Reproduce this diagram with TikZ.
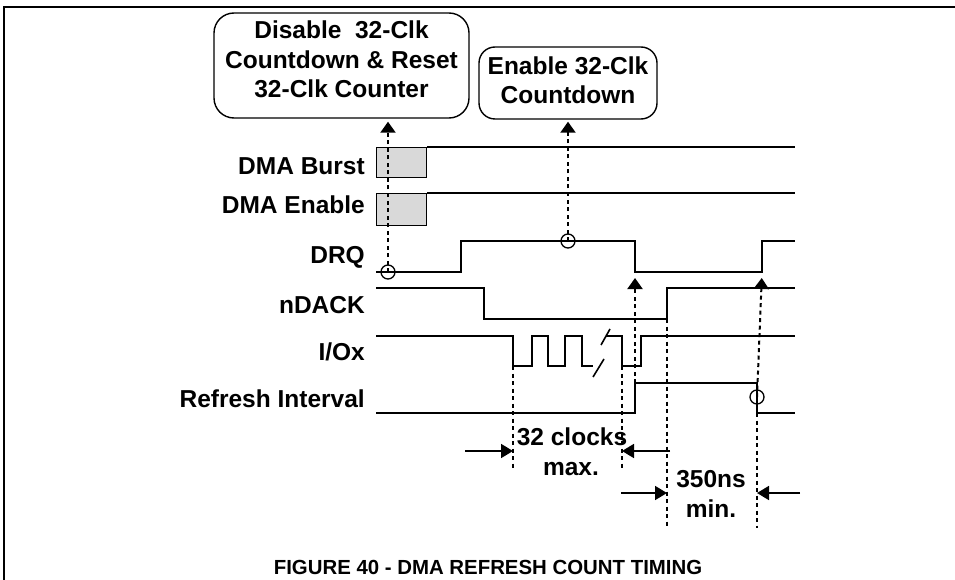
\documentclass[tikz,border=0pt]{standalone}
\usepackage{fontspec}
\setmainfont{Liberation Sans}
\usepackage{tikz}
\usetikzlibrary{positioning, arrows.meta}
\newcommand{\bigbf}{\fontsize{24.5}{29.5}\selectfont\bfseries}
\tikzset{
  siglabel/.style={anchor=base east, inner sep=0pt, font=\bigbf},
  wave/.style={line width=1.6pt, line join=miter},
  burstbox/.style={draw, line width=1.4pt, fill=black!15, inner sep=0pt, anchor=north west},
  eventbox/.style={draw, line width=1.4pt, align=center, inner sep=0pt, font=\bigbf},
  edgemark/.style={draw, circle, line width=1.3pt, minimum size=14pt, inner sep=0pt},
  cause/.style={line width=2pt, dash pattern=on 4pt off 3.5pt, -{Triangle[width=15pt,length=11pt]}},
  guide/.style={line width=2pt, dash pattern=on 4pt off 3.5pt},
  span/.style={line width=1.8pt, -{Triangle[width=14pt,length=12pt]}},
  dimtext/.style={anchor=base, inner sep=0pt, font=\bigbf},
}

\begin{document}
\begin{tikzpicture}[x=1pt, y=-1pt]
  \useasboundingbox (0,0) rectangle (955,580);
  \draw[line width=2.4pt] (4,580) -- (4,7) -- (955,7);

  % signal names
  \foreach \nm/\lab/\y in {lbBurst/DMA Burst/175, lbEnable/DMA Enable/213, lbDRQ/DRQ/263,
      lbDACK/nDACK/313, lbIO/{I/Ox}/360, lbRef/Refresh Interval/407}
    \node[siglabel] (\nm) at (365,\y) {\lab};

  % event boxes
  \node[eventbox, rounded corners=20pt, minimum width=255pt, minimum height=105pt, text depth=12pt]
    (disable) at (341.5,65.5) {Disable\ \ 32-Clk\\Countdown \& Reset\\32-Clk Counter};
  \node[eventbox, rounded corners=16pt, minimum width=178pt, minimum height=72pt, text depth=6pt]
    (enable) at (568,83) {Enable 32-Clk\\Countdown};

  % waveforms
  \node[burstbox, minimum width=50pt, minimum height=30pt] (burst) at (376,147) {};
  \draw[wave] (burst.north east) -- (795,147);
  \node[burstbox, minimum width=50pt, minimum height=32pt] (dmaen) at (376,193) {};
  \draw[wave] (dmaen.north east) -- (795,193);
  \draw[wave] (376,272) -- (461,272) -- (461,241) -- (635,241) -- (635,272)
    -- (762,272) -- (762,241) -- (795,241);
  \draw[wave] (376,288) -- (484,288) -- (484,319) -- (667,319) -- (667,288) -- (795,288);
  \draw[wave] (376,336) -- (513,336) -- (513,366) -- (532,366) -- (532,336) -- (548,336)
    -- (548,366) -- (565,366) -- (565,336) -- (582,336) -- (582,366) -- (593,366);
  \draw[wave] (593,377) -- (604,359);
  \draw[wave] (601,345) -- (610,329);
  \draw[wave] (606,336) -- (622,336) -- (622,366) -- (641,366) -- (641,336) -- (795,336);
  \draw[wave] (376,413) -- (635,413) -- (635,383) -- (757,383) -- (757,413) -- (795,413);

  % edge points
  \node[edgemark] (drqLo) at (388,272) {};
  \node[edgemark] (drqHi) at (568,241) {};
  \node[edgemark] (refOff) at (757,397) {};
  \coordinate (drqFall) at (635,272);
  \coordinate (drqRise) at (762,272);
  \coordinate (refRise) at (635,383);
  \coordinate (refFall) at (757,413);
  \coordinate (ioFirst) at (513,366);
  \coordinate (ioLast) at (622,366);
  \coordinate (ackRise) at (667,319);
  \coordinate (clkL) at (513,470);
  \coordinate (clkR) at (622,470);
  \coordinate (nsL) at (667,528);
  \coordinate (nsR) at (757,528);
  \coordinate (clkTailL) at (465,451);
  \coordinate (clkTailR) at (670,451);
  \coordinate (nsTailL) at (621,493);
  \coordinate (nsTailR) at (800,493);

  % cause and effect
  \draw[cause, shorten >=3pt] (drqLo.center) -- (disable.south -| drqLo);
  \draw[cause, shorten >=2pt] (drqHi.center) -- (enable.south);
  \draw[cause, shorten >=6pt] (refRise) -- (drqFall);
  \draw[cause, shorten >=6pt] (refOff.center) -- (drqRise);

  % timing limits
  \draw[guide] (ioFirst) -- (clkL);
  \draw[guide] (ioLast) -- (clkR);
  \draw[guide] (ackRise) -- (nsL);
  \draw[guide] (refFall) -- (nsR);
  \draw[span] (clkTailL) -- (clkTailL -| clkL);
  \draw[span] (clkTailR) -- (clkTailR -| clkR);
  \draw[span] (nsTailL) -- (nsTailL -| nsL);
  \draw[span] (nsTailR) -- (nsTailR -| nsR);
  \node[dimtext] (clkTxt) at (572,445) {32 clocks};
  \node[dimtext] (clkMax) at (571,475) {max.};
  \node[dimtext] (nsTxt) at (711,487) {350ns};
  \node[dimtext] (nsMin) at (711,517) {min.};

  \node[anchor=base, inner sep=0pt, font=\fontsize{20.4}{24}\selectfont\bfseries] (caption)
    at (488,574) {FIGURE 40 - DMA REFRESH COUNT TIMING};
\end{tikzpicture}
\end{document}
